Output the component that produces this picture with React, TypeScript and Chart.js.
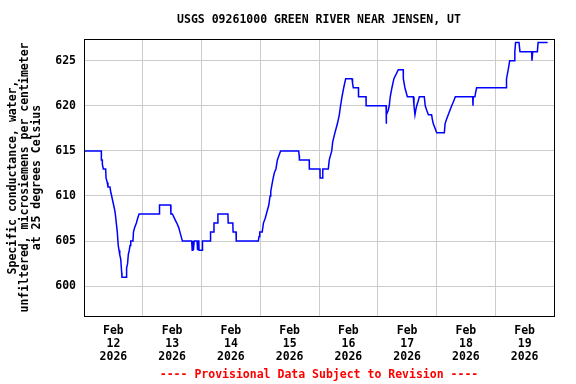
import React, { useEffect, useRef } from 'react';
import { Chart, registerables } from 'chart.js';

Chart.register(...registerables);

const TITLE = 'USGS 09261000 GREEN RIVER NEAR JENSEN, UT';
const FOOTER = '---- Provisional Data Subject to Revision ----';
const Y_TITLE = [
  'Specific conductance, water,',
  'unfiltered, microsiemens per centimeter',
  'at 25 degrees Celsius',
];

// Day labels (centred on each day); x axis is hours since Feb 12 2026 00:00
const dayLabels = ['12', '13', '14', '15', '16', '17', '18', '19'];
const monthLabel = 'Feb';
const yearLabel = '2026';
const yTicks = [600, 605, 610, 615, 620, 625];

// Hours since Feb 12 00:00
const hours = [
  0, 7.08, 7.1, 7.49, 7.5, 7.9, 8.85, 9.0, 9.5, 9.8, 10.6, 10.9, 11.3, 11.7, 12.1, 12.5, 12.8, 13.2, 13.6, 14.0,
  14.3, 14.6, 15.0, 15.4, 15.5, 17.3, 17.4, 17.8, 18.1, 18.5, 18.8, 19.1, 20.0, 20.2, 20.7, 21.4, 21.9, 22.5, 30.8, 30.85,
  35.4, 35.5, 36.1, 37.0, 37.9, 38.7, 39.2, 40.2, 44.0, 44.2, 44.4, 44.7, 45.0, 46.2, 46.3, 46.5, 46.9, 47.0, 48.3, 48.4,
  51.5, 51.7, 53.0, 53.1, 54.5, 54.7, 58.8, 58.9, 60.8, 60.9, 62.1, 62.2, 71.2, 71.5, 71.8, 72.8, 73.3, 74.0, 74.5, 75.0,
  75.5, 76.0, 76.3, 76.8, 77.3, 77.8, 78.4, 79.0, 80.3, 87.7, 87.9, 88.0, 92.0, 92.05, 96.4, 96.45, 97.5, 97.55, 99.8, 100.2,
  101.2, 101.6, 102.5, 103.5, 104.3, 104.8, 105.4, 106.1, 106.9, 109.5, 109.7, 110.0, 112.1, 112.15, 115.2, 115.25, 123.4, 123.45, 123.6, 124.3,
  124.7, 125.1, 125.8, 126.6, 128.4, 130.4, 130.45, 131.1, 132.1, 134.5, 134.8, 135.2, 135.5, 135.9, 136.5, 137.0, 139.0, 139.4, 140.0, 140.7,
  142.0, 142.3, 142.7, 144.1, 147.2, 147.5, 148.1, 148.8, 149.5, 150.2, 151.0, 151.7, 158.8, 158.9, 159.0, 159.7, 160.0, 160.4, 172.4, 172.6,
  173.3, 173.9, 175.7, 176.0, 176.3, 177.7, 178.1, 182.9, 183.0, 183.3, 185.2, 185.5, 189.4,
];

const values = [
  615, 615, 614, 614, 613.5, 613, 613, 612, 611.5, 611, 611, 610.5, 610, 609.5, 609, 608.5, 608, 607, 606, 604.5,
  604, 603.5, 603, 601.5, 601, 601, 602, 602.5, 603.5, 604, 604.5, 605, 605, 606, 606.5, 607, 607.5, 608, 608, 609,
  609, 608, 608, 607.5, 607, 606.5, 606, 605, 605, 604, 605, 604, 605, 605, 604, 605, 605, 604, 604, 605,
  605, 606, 606, 607, 607, 608, 608, 607, 607, 606, 606, 605, 605, 605.5, 606, 606, 607, 607.5, 608, 608.5,
  609, 610, 610.5, 611.3, 612, 612.6, 613, 614, 615, 615, 614.5, 614, 614, 613, 613, 612, 612, 613, 613, 614,
  615, 616, 617, 618, 619, 620, 621, 622, 623, 623, 622.5, 622, 622, 621, 621, 620, 620, 618, 619, 619.5,
  620, 621, 622, 623, 624, 624, 623, 622, 621, 621, 620, 619, 619.5, 620, 620.5, 621, 621, 620, 619.5, 619,
  619, 618.5, 618, 617, 617, 618, 618.5, 619, 619.5, 620, 620.5, 621, 621, 620, 621, 621, 621.5, 622, 622, 623,
  624, 625, 625, 626, 627, 627, 626, 626, 625, 626, 626, 627, 627,
];

const FONT_FAMILY = "'DejaVu Sans Mono', monospace";

const framePlugin = {
  id: 'frameAndText',
  afterDraw(chart: any) {
    const { ctx, chartArea: a } = chart;
    ctx.save();
    ctx.strokeStyle = '#000000';
    ctx.lineWidth = 1;
    ctx.strokeRect(Math.round(a.left) + 0.5, Math.round(a.top) + 0.5, Math.round(a.right - a.left), Math.round(a.bottom - a.top));
    ctx.font = `bold 11.5px ${FONT_FAMILY}`;
    ctx.textAlign = 'center';
    ctx.textBaseline = 'middle';
    ctx.fillStyle = '#000000';
    const cx = (a.left + a.right) / 2;
    ctx.fillText(TITLE, cx, 20);
    ctx.fillStyle = '#ff0000';
    ctx.fillText(FOOTER, cx, 375);
    ctx.restore();
  },
};

export default function App() {
  const canvasRef = useRef<HTMLCanvasElement | null>(null);

  useEffect(() => {
    const canvas = canvasRef.current;
    if (!canvas) return;
    const points = hours.map((h, i) => ({ x: h, y: values[i] }));
    const xTickVals: number[] = [];
    for (let v = 0; v <= 192; v += 12) xTickVals.push(v);

    const chart = new Chart(canvas, {
      type: 'line',
      data: {
        datasets: [
          {
            data: points,
            borderColor: '#0000ff',
            borderWidth: 1.5,
            pointRadius: 0,
            tension: 0,
            fill: false,
          },
        ],
      },
      options: {
        animation: false,
        responsive: false,
        maintainAspectRatio: false,
        events: [],
        layout: { padding: { top: 39, right: 22, left: 0, bottom: 0 } },
        plugins: {
          legend: { display: false },
          tooltip: { enabled: false },
          title: { display: false },
        },
        scales: {
          x: {
            type: 'linear',
            min: 0,
            max: 192,
            afterBuildTicks: (s: any) => {
              s.ticks = xTickVals.map((v) => ({ value: v }));
            },
            afterFit: (s: any) => {
              s.height = 68;
            },
            border: { display: false },
            grid: {
              color: (c: any) => (c.tick && c.tick.value % 24 === 0 ? '#cccccc' : 'rgba(0,0,0,0)'),
              drawTicks: false,
              lineWidth: 1,
            },
            ticks: {
              autoSkip: false,
              maxRotation: 0,
              minRotation: 0,
              padding: 9,
              color: '#000000',
              font: { family: FONT_FAMILY, size: 11.5, weight: 'bold', lineHeight: '13px' },
              callback: (v: any) => {
                const n = Number(v);
                if (n % 24 === 12) {
                  return [monthLabel, dayLabels[(n - 12) / 24], yearLabel];
                }
                return '';
              },
            },
          },
          y: {
            type: 'linear',
            min: 596.7,
            max: 627.4,
            afterBuildTicks: (s: any) => {
              s.ticks = yTicks.map((v) => ({ value: v }));
            },
            afterFit: (s: any) => {
              s.width = 84;
            },
            border: { display: false },
            grid: { color: '#cccccc', drawTicks: false, lineWidth: 1 },
            ticks: {
              padding: 8,
              color: '#000000',
              font: { family: FONT_FAMILY, size: 11.5, weight: 'bold' },
            },
            title: {
              display: true,
              text: Y_TITLE,
              color: '#000000',
              font: { family: FONT_FAMILY, size: 11.5, weight: 'bold', lineHeight: '12px' },
              padding: { top: 7, bottom: 0 },
            },
          },
        },
      } as any,
      plugins: [framePlugin],
    });

    return () => {
      chart.destroy();
    };
  }, []);

  return (
    <div style={{ position: 'absolute', left: 0, top: 0, width: 576, height: 384, background: '#ffffff' }}>
      <canvas ref={canvasRef} width={576} height={384} style={{ display: 'block', width: 576, height: 384 }} />
    </div>
  );
}
